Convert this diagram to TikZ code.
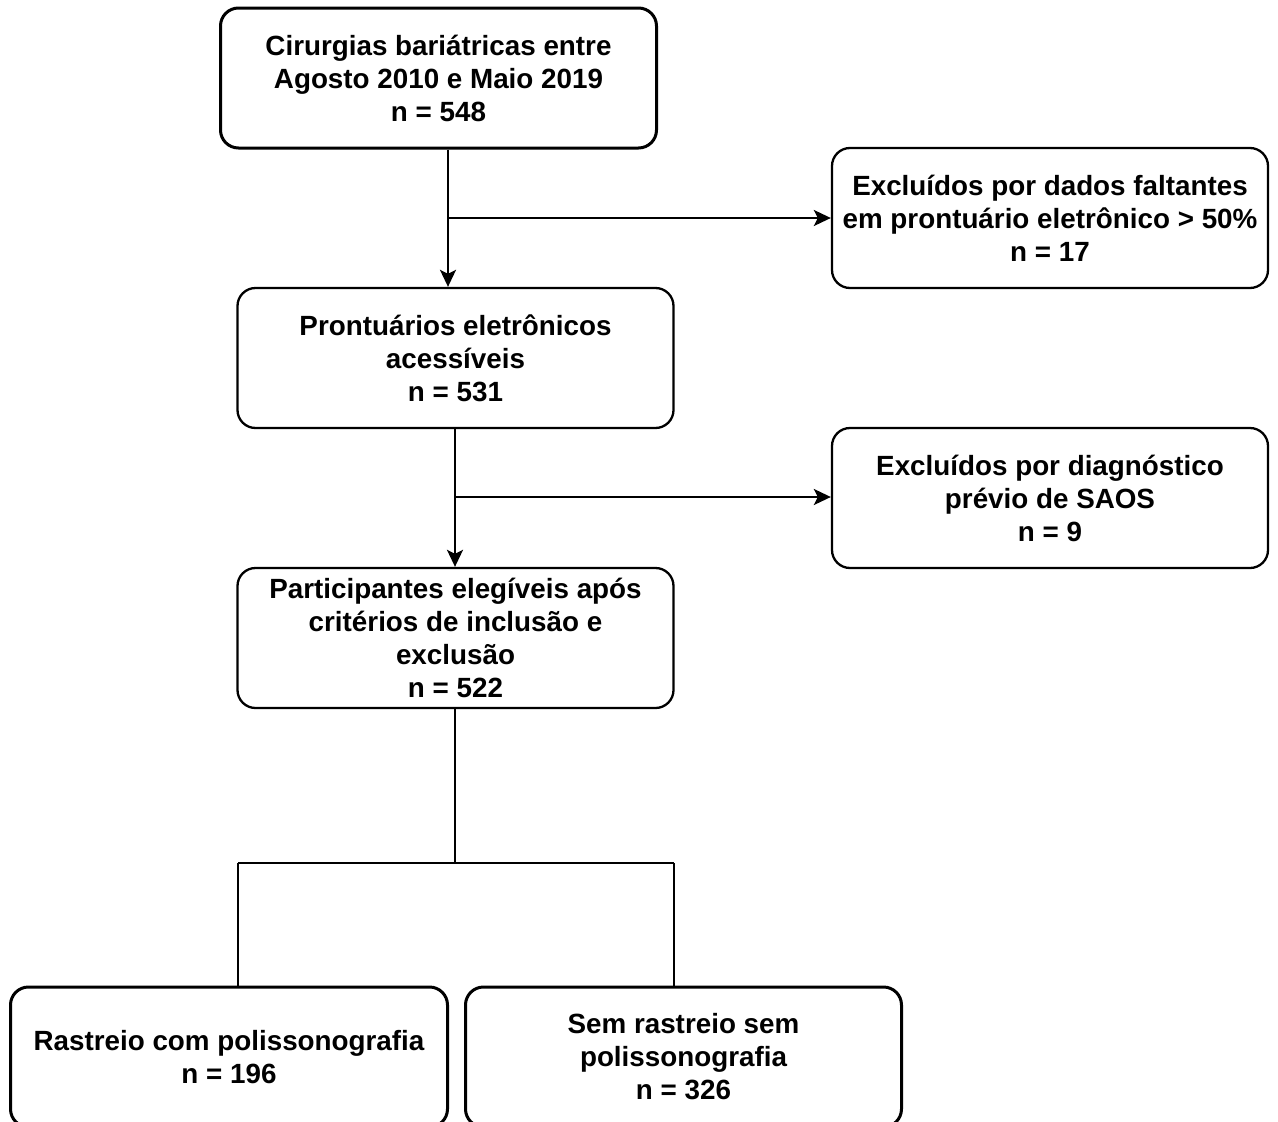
\documentclass[tikz,border=0pt]{standalone}
\usepackage{fontspec}
\setmainfont{Liberation Sans}
\usetikzlibrary{arrows.meta}
\begin{document}
\begin{tikzpicture}[x=1pt,y=-1pt,
  box/.style={draw=black, rounded corners=18pt, line width=2.3pt, align=center,
    font=\bfseries\fontsize{27.8}{33}\selectfont, inner sep=0pt,
    minimum width=436pt, minimum height=140pt},
  thickbox/.style={box, line width=3pt},
  conn/.style={line width=2.5pt},
  arr/.style={conn, -{Stealth[length=17pt,width=16pt,inset=4pt]}}]
\useasboundingbox (0,0) rectangle (1278,1122);
\clip (0,0) rectangle (1278,1122);
\fill[white] (0,0) rectangle (1278,1122);

\node[thickbox] (a) at (438.5,78) {Cirurgias bariátricas entre\\Agosto 2010 e Maio 2019\\n = 548};
\node[box] (x1) at (1050,218) {Excluídos por dados faltantes\\em prontuário eletrônico > 50\%\\n = 17};
\node[box] (b) at (455.5,358) {Prontuários eletrônicos\\acessíveis\\n = 531};
\node[box] (x2) at (1050,498) {Excluídos por diagnóstico\\prévio de SAOS\\n = 9};
\node[box] (c) at (455.5,638) {Participantes elegíveis após\\critérios de inclusão e\\exclusão\\n = 522};
\node[thickbox, minimum width=437pt] (d) at (229,1057) {Rastreio com polissonografia\\n = 196};
\node[thickbox] (e) at (683.5,1057) {Sem rastreio sem\\polissonografia\\n = 326};

\coordinate (j1) at (448,218);
\coordinate (j2) at (455,497);
\coordinate (j3) at (455,863);
\coordinate (l) at (238,863);
\coordinate (r) at (674,863);

\draw[arr] (a.south -| j1) -- (b.north -| j1);
\draw[arr] (j1) -- (x1.west |- j1);
\draw[arr] (b.south -| j2) -- (c.north -| j2);
\draw[arr] (j2) -- (x2.west |- j2);
\draw[conn] (c.south -| j3) -- (j3);
\draw[conn] (l) -- (r);
\draw[conn] (l) -- (d.north -| l);
\draw[conn] (r) -- (e.north -| r);
\end{tikzpicture}
\end{document}
